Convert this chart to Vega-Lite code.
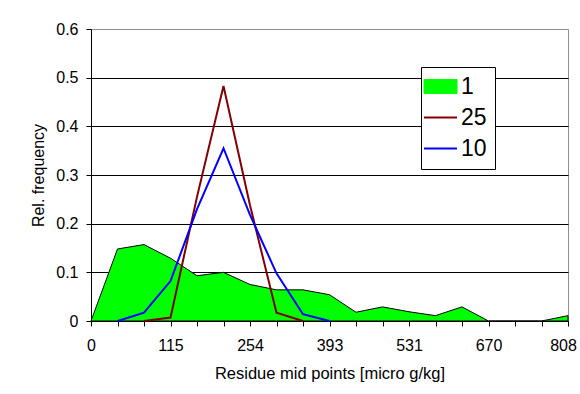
{
  "$schema": "https://vega.github.io/schema/vega-lite/v6.json",
  "width": 477,
  "height": 292,
  "autosize": {"type": "none"},
  "padding": {"left": 91, "top": 29, "right": 12, "bottom": 73},
  "background": "white",
  "config": {
    "font": "Liberation Sans",
    "view": {"stroke": "#909090", "strokeWidth": 1}
  },
  "data": {
    "values": [
      {"mid": "0", "series": "1", "freq": 0},
      {"mid": "38", "series": "1", "freq": 0.148},
      {"mid": "77", "series": "1", "freq": 0.157},
      {"mid": "115", "series": "1", "freq": 0.129},
      {"mid": "161", "series": "1", "freq": 0.093},
      {"mid": "208", "series": "1", "freq": 0.100},
      {"mid": "254", "series": "1", "freq": 0.075},
      {"mid": "300", "series": "1", "freq": 0.064},
      {"mid": "347", "series": "1", "freq": 0.064},
      {"mid": "393", "series": "1", "freq": 0.054},
      {"mid": "439", "series": "1", "freq": 0.018},
      {"mid": "485", "series": "1", "freq": 0.029},
      {"mid": "531", "series": "1", "freq": 0.019},
      {"mid": "577", "series": "1", "freq": 0.011},
      {"mid": "624", "series": "1", "freq": 0.029},
      {"mid": "670", "series": "1", "freq": 0},
      {"mid": "716", "series": "1", "freq": 0},
      {"mid": "762", "series": "1", "freq": 0},
      {"mid": "808", "series": "1", "freq": 0.011},
      {"mid": "77", "series": "25", "freq": 0},
      {"mid": "115", "series": "25", "freq": 0.007},
      {"mid": "161", "series": "25", "freq": 0.255},
      {"mid": "208", "series": "25", "freq": 0.483},
      {"mid": "254", "series": "25", "freq": 0.238},
      {"mid": "300", "series": "25", "freq": 0.017},
      {"mid": "347", "series": "25", "freq": 0},
      {"mid": "38", "series": "10", "freq": 0},
      {"mid": "77", "series": "10", "freq": 0.017},
      {"mid": "115", "series": "10", "freq": 0.082},
      {"mid": "161", "series": "10", "freq": 0.23},
      {"mid": "208", "series": "10", "freq": 0.355},
      {"mid": "254", "series": "10", "freq": 0.218},
      {"mid": "300", "series": "10", "freq": 0.098},
      {"mid": "347", "series": "10", "freq": 0.014},
      {"mid": "393", "series": "10", "freq": 0}
    ]
  },
  "encoding": {
    "x": {
      "field": "mid",
      "type": "ordinal",
      "sort": ["0","38","77","115","161","208","254","300","347","393","439","485","531","577","624","670","716","762","808"],
      "scale": {"type": "point", "padding": 0},
      "axis": {
        "title": "Residue mid points [micro g/kg]",
        "labelAngle": 0,
        "labelExpr": "indexof(['0','115','254','393','531','670','808'], datum.label) >= 0 ? datum.label : ''",
        "labelOffset": {"condition": {"test": "datum.label == '808'", "value": -5}, "value": 0},
        "labelFontSize": 16,
        "labelColor": "black",
        "labelPadding": 11,
        "tickSize": 5,
        "tickColor": "black",
        "domainColor": "black",
        "titleFontSize": 16.5,
        "titleFontWeight": "normal",
        "titleColor": "black",
        "titlePadding": 12,
        "grid": false
      }
    },
    "y": {
      "field": "freq",
      "type": "quantitative",
      "scale": {"domain": [0, 0.6], "nice": false},
      "axis": {
        "title": "Rel. frequency",
        "values": [0, 0.1, 0.2, 0.3, 0.4, 0.5, 0.6],
        "format": "~g",
        "labelFontSize": 16,
        "labelColor": "black",
        "labelPadding": 8,
        "tickSize": 5,
        "tickColor": "black",
        "domainColor": "black",
        "gridColor": {"condition": {"test": "datum.value >= 0.59", "value": "#909090"}, "value": "black"},
        "gridOpacity": 1,
        "titleFontSize": 16,
        "titleFontWeight": "normal",
        "titleColor": "black",
        "titlePadding": 9
      }
    },
    "color": {
      "field": "series",
      "type": "nominal",
      "scale": {"domain": ["1", "25", "10"], "range": ["#00ff00", "#800000", "#0000ff"]},
      "legend": {
        "orient": "none",
        "legendX": 330,
        "legendY": 38,
        "title": null,
        "fillColor": "white",
        "strokeColor": "black",
        "padding": 8,
        "rowPadding": 7,
        "symbolSize": 1089,
        "labelOffset": 9,
        "labelFontSize": 23,
        "labelColor": "black",
        "encode": {
          "symbols": {
            "update": {
              "shape": {"signal": "datum.value == '1' ? 'M-1,-0.42H1V0.42H-1Z' : 'M-1,0H1'"},
              "fill": {"signal": "datum.value == '1' ? '#00ff00' : 'transparent'"},
              "stroke": {"signal": "datum.value == '1' ? 'black' : scale('color', datum.value)"},
              "strokeWidth": {"signal": "datum.value == '1' ? 1 : 2"},
              "opacity": {"value": 1},
              "fillOpacity": {"value": 1}
            }
          }
        }
      }
    }
  },
  "layer": [
    {
      "transform": [{"filter": "datum.series == '1'"}],
      "mark": {"type": "area", "stroke": "black", "strokeWidth": 1, "opacity": 1, "line": false}
    },
    {
      "transform": [{"filter": "datum.series != '1'"}],
      "mark": {"type": "line", "strokeWidth": 2}
    }
  ]
}
